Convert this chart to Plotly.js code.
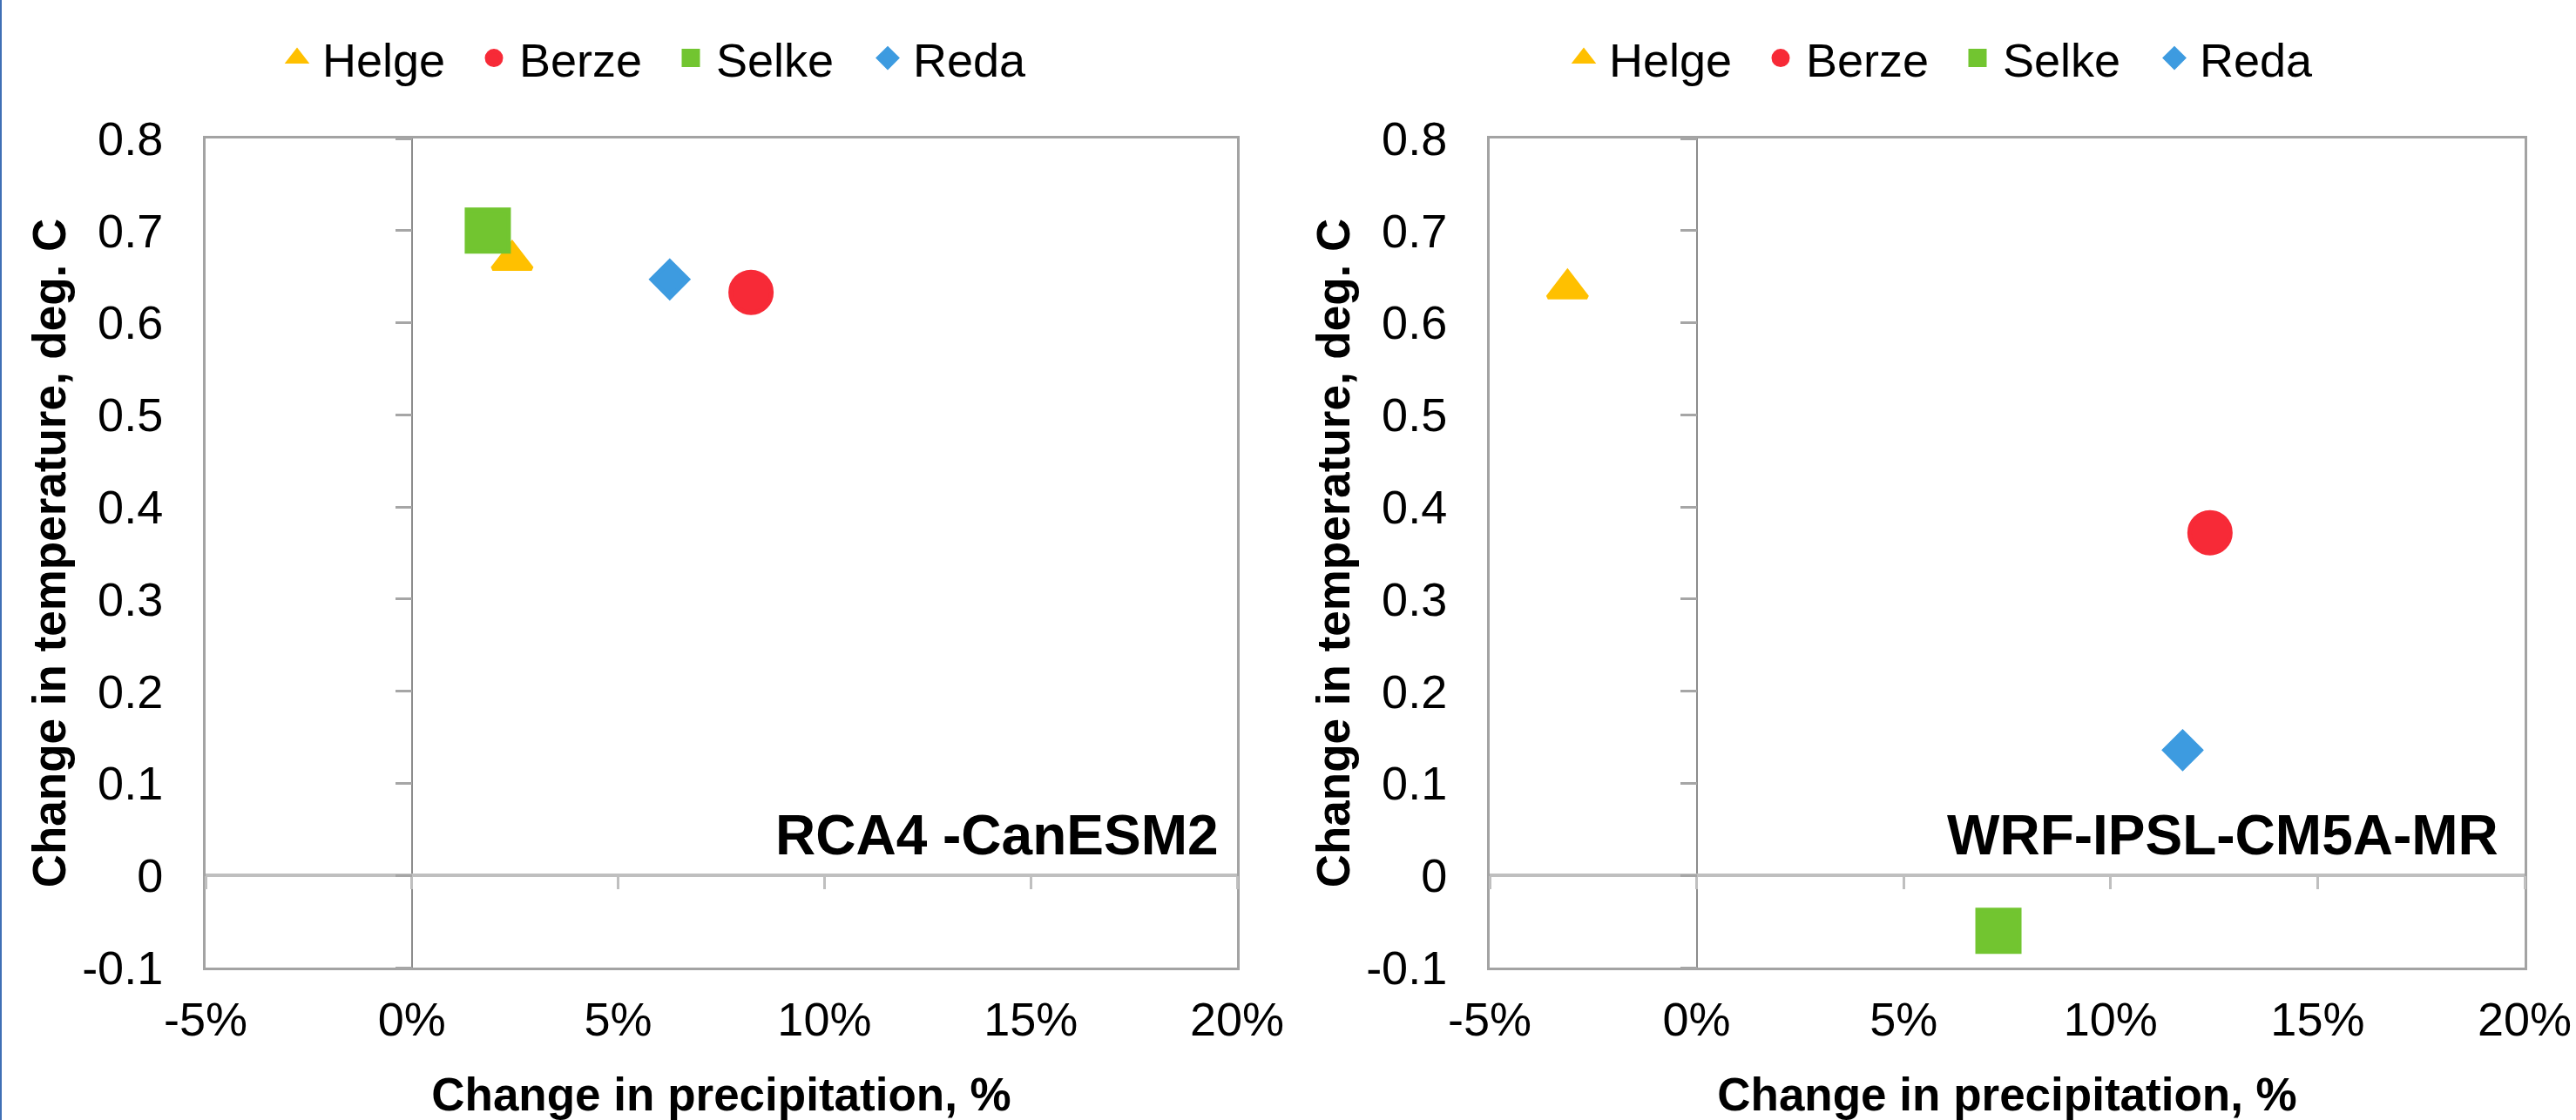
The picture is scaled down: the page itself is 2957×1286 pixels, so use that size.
<!DOCTYPE html>
<html><head><meta charset="utf-8">
<script src="https://cdn.plot.ly/plotly-3.0.1.min.js"></script>
<style>
html,body{margin:0;padding:0;background:#fff;}
#wrap{position:relative;width:2957px;height:1286px;}
#chart{width:2957px;height:1286px;}
#edge{position:absolute;left:0;top:0;width:2px;height:1286px;background:#3f6fb5;}
</style>
</head><body><div id="wrap"><div id="chart"></div><div id="edge"></div></div>
<script>
// ---- data ----
const stations = ['Helge', 'Berze', 'Selke', 'Reda'];
const rcaPrecip = [0.0243, 0.0822, 0.0184, 0.0625];   // change in precipitation (fraction)
const rcaTemp   = [0.668, 0.633, 0.700, 0.647];       // change in temperature, deg C
const wrfPrecip = [-0.0312, 0.1240, 0.0729, 0.1174];
const wrfTemp   = [0.637, 0.372, -0.060, 0.136];
const xTickVals   = [-0.05, 0, 0.05, 0.10, 0.15, 0.20];
const xTickLabels = ['-5%', '0%', '5%', '10%', '15%', '20%'];
const yTickVals   = [-0.1, 0, 0.1, 0.2, 0.3, 0.4, 0.5, 0.6, 0.7, 0.8];
const yTickLabels = ['-0.1', '0', '0.1', '0.2', '0.3', '0.4', '0.5', '0.6', '0.7', '0.8'];
const panelLabels = ['RCA4 -CanESM2', 'WRF-IPSL-CM5A-MR'];
const xTitleText = 'Change in precipitation, %';
const yTitleText = 'Change in temperature, deg. C';

// ---- styles ----
const FONT = 'Liberation Sans, Arial, sans-serif';
const markerStyle = {
  Helge: {symbol: 'triangle-up', color: '#FFC000', size: 39},
  Berze: {symbol: 'circle',      color: '#F72A37', size: 47},
  Selke: {symbol: 'square',      color: '#72C530', size: 48},
  Reda:  {symbol: 'diamond',     color: '#3D9BE0', size: 32}
};
const W = 2957, H = 1286;
const panels = [
  {px0: 236, px1: 1420, xa: 'x', ya: 'y', leg: 'legend', xs: rcaPrecip, ys: rcaTemp, lab: panelLabels[0], labShift: -19, legLeft: 312},
  {px0: 1710, px1: 2898, xa: 'x2', ya: 'y2', leg: 'legend2', xs: wrfPrecip, ys: wrfTemp, lab: panelLabels[1], labShift: -28, legLeft: 1789}
];
const pyTop = 159, pyBot = 1111;
const yDom = [1 - pyBot / H, 1 - pyTop / H];
const XR = [-0.05, 0.20], YR = [-0.1, 0.8];

const traces = [];
const layout = {
  width: W, height: H,
  margin: {l: 0, r: 0, t: 0, b: 0},
  paper_bgcolor: '#ffffff', plot_bgcolor: '#ffffff',
  font: {family: FONT, size: 54, color: '#000'},
  showlegend: true,
  hovermode: false,
  annotations: []
};

panels.forEach((p, k) => {
  const n = k === 0 ? '' : '2';
  const tn = k === 0 ? '3' : '4';
  // hidden companion trace (fully transparent) so the zero-crossing tick axes get drawn
  traces.push({
    type: 'scatter', mode: 'markers', x: p.xs, y: p.ys,
    xaxis: 'x' + tn, yaxis: 'y' + tn, showlegend: false, hoverinfo: 'skip',
    marker: {opacity: 0, size: 1}
  });
  stations.forEach((s, i) => {
    const st = markerStyle[s];
    traces.push({
      type: 'scatter', mode: 'markers', name: s,
      x: [p.xs[i]], y: [p.ys[i]],
      xaxis: p.xa, yaxis: p.ya, legend: p.leg,
      marker: {symbol: st.symbol, color: st.color, size: st.size, line: {color: st.color, width: 5}},
      cliponaxis: false
    });
  });
  const xDom = [p.px0 / W, p.px1 / W];
  const xzFrac = (0 - YR[0]) / (YR[1] - YR[0]);
  const yzFrac = (0 - XR[0]) / (XR[1] - XR[0]);
  layout['xaxis' + n] = {
    domain: xDom, range: XR, anchor: 'y' + n,
    tickmode: 'array', tickvals: xTickVals, ticktext: xTickLabels,
    showgrid: false, zeroline: true, zerolinecolor: '#8c8c8c', zerolinewidth: 2,
    showline: true, mirror: true, linecolor: '#a3a3a3', linewidth: 3,
    ticks: 'outside', ticklen: 10, tickcolor: 'rgba(0,0,0,0)',
    tickfont: {family: FONT, size: 54, color: '#000'},
    title: {text: xTitleText, standoff: 40, font: {family: FONT, size: 53, weight: 'bold', color: '#000'}},
    fixedrange: true
  };
  layout['yaxis' + n] = {
    domain: yDom, range: YR, anchor: 'x' + n,
    tickmode: 'array', tickvals: yTickVals, ticktext: yTickLabels,
    showgrid: false, zeroline: true, zerolinecolor: '#bfbfbf', zerolinewidth: 4,
    showline: true, mirror: true, linecolor: '#a3a3a3', linewidth: 3,
    ticks: 'outside', ticklen: 35, tickcolor: 'rgba(0,0,0,0)',
    tickfont: {family: FONT, size: 54, color: '#000'},
    title: {text: yTitleText, standoff: 2, font: {family: FONT, size: 53, weight: 'bold', color: '#000'}},
    fixedrange: true
  };
  // tick-mark axes that cross at zero
  layout['xaxis' + tn] = {
    visible: true, overlaying: 'x' + n, anchor: 'free',
    position: yDom[0] + (yDom[1] - yDom[0]) * xzFrac,
    range: XR, tickmode: 'array', tickvals: xTickVals,
    ticks: 'outside', ticklen: 15, tickwidth: 3, tickcolor: '#bfbfbf',
    showticklabels: false, showgrid: false, zeroline: false, showline: false, fixedrange: true
  };
  layout['yaxis' + tn] = {
    visible: true, overlaying: 'y' + n, anchor: 'free', side: 'left',
    position: xDom[0] + (xDom[1] - xDom[0]) * yzFrac,
    range: YR, tickmode: 'array', tickvals: yTickVals,
    ticks: 'outside', ticklen: 19, tickwidth: 3, tickcolor: '#a6a6a6',
    showticklabels: false, showgrid: false, zeroline: false, showline: false, fixedrange: true
  };
  layout[p.leg] = {
    orientation: 'h', x: p.legLeft / W, xanchor: 'left', y: 1 - 67 / H, yanchor: 'middle',
    bgcolor: 'rgba(0,0,0,0)', borderwidth: 0,
    font: {family: FONT, size: 54, color: '#000'},
    itemwidth: 48, entrywidth: 163, entrywidthmode: 'pixels',
    itemclick: false, itemdoubleclick: false
  };
  layout.annotations.push({
    text: p.lab, showarrow: false,
    xref: 'x' + n + ' domain', yref: 'y' + n + ' domain',
    x: 1, y: (pyBot - 959) / (pyBot - pyTop), xanchor: 'right', yanchor: 'middle', xshift: p.labShift,
    font: {family: FONT, size: 64, weight: 'bold', color: '#000'}
  });
});

Plotly.newPlot('chart', traces, layout, {displayModeBar: false, staticPlot: true});
</script>
</body></html>
